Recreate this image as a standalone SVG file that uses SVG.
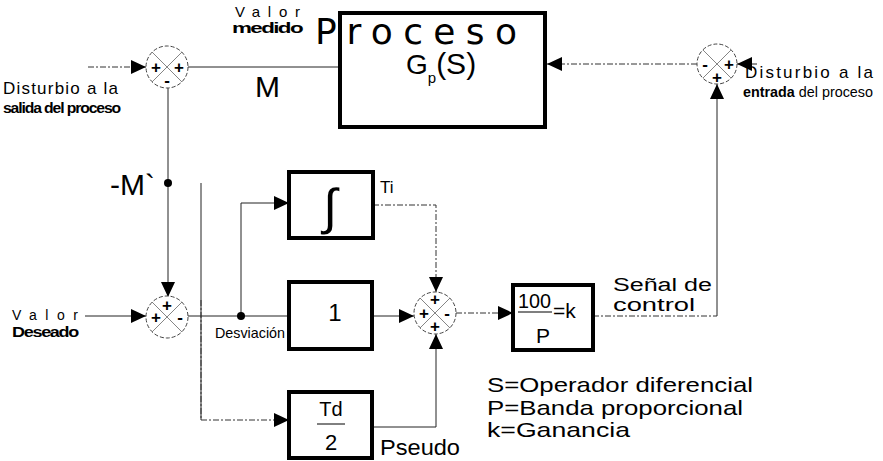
<svg xmlns="http://www.w3.org/2000/svg" width="883" height="461" viewBox="0 0 883 461">
<style>
text{font-family:"Liberation Sans",Arial,sans-serif;fill:#000}
text.dj{font-family:"DejaVu Sans",sans-serif}
.blk{fill:#fff;stroke:#000;stroke-width:4}
.sum{fill:#fff;stroke:#444;stroke-width:1;stroke-dasharray:4 2}
.x{stroke:#666;stroke-width:0.8}
.sg{font-size:17px;font-weight:bold;text-anchor:middle}
.ln{fill:none;stroke:#222;stroke-width:1}
.dl{fill:none;stroke:#333;stroke-width:1;stroke-dasharray:6 2 2 2}
.cond{font-weight:bold;letter-spacing:-1px}
</style>
<defs>
<marker id="ah" markerUnits="userSpaceOnUse" markerWidth="16" markerHeight="14" refX="15" refY="7" orient="auto">
<path d="M0,0 L15,7 L0,14 Z" fill="#000"/>
</marker>
</defs>

<g id="connectors">
<path class="dl" d="M88,67 H146" marker-end="url(#ah)"/>
<path class="ln" d="M188,67 H340"/>
<path class="ln" d="M168,88 V297" marker-end="url(#ah)"/>
<path class="ln" d="M85,316 H146" marker-end="url(#ah)"/>
<path class="ln" d="M188,316 H289"/>
<path class="ln" d="M241,316 V203 H289" marker-end="url(#ah)"/>
<path class="ln" d="M201,183 V420"/>
<path class="dl" d="M201,300 V420 H289" marker-end="url(#ah)"/>
<path class="ln" d="M372,316 H414" marker-end="url(#ah)"/>
<path class="dl" d="M373,205 H436 V292" marker-end="url(#ah)"/>
<path class="ln" d="M372,427 H436 V334" marker-end="url(#ah)"/>
<path class="dl" d="M456,313 H513" marker-end="url(#ah)"/>
<path class="dl" d="M593,316 H717"/>
<path class="ln" d="M717,316 V84" stroke-width="1.5" marker-end="url(#ah)"/>
<path class="ln" d="M757,64 H737" marker-end="url(#ah)"/>
<path class="dl" d="M697,64 H547" marker-end="url(#ah)"/>
<circle cx="168" cy="183" r="4" fill="#000"/>
<circle cx="241" cy="316" r="4" fill="#000"/>
</g>

<g id="sum1">
<circle class="sum" cx="167" cy="67" r="21"/>
<path class="x" d="M152,52 L182,82 M182,52 L152,82"/>
<text class="sg" x="156" y="73">+</text>
<text class="sg" x="179" y="73">+</text>
<text class="sg" x="167" y="86">-</text>
</g>

<g id="sum2">
<circle class="sum" cx="717" cy="64" r="20"/>
<path class="x" d="M703,50 L731,78 M731,50 L703,78"/>
<text class="sg" x="705" y="70">-</text>
<text class="sg" x="729" y="70">+</text>
<text class="sg" x="717" y="83">+</text>
</g>

<g id="sum3">
<circle class="sum" cx="167" cy="317" r="21"/>
<path class="x" d="M152,302 L182,332 M182,302 L152,332"/>
<text class="sg" x="167" y="311">+</text>
<text class="sg" x="156" y="323">+</text>
<text class="sg" x="180" y="323">-</text>
</g>

<g id="sum4">
<circle class="sum" cx="435" cy="313" r="21"/>
<path class="x" d="M420,298 L450,328 M450,298 L420,328"/>
<text class="sg" x="435" y="305">+</text>
<text class="sg" x="424" y="319">+</text>
<text class="sg" x="447" y="319">-</text>
<text class="sg" x="435" y="332">+</text>
</g>

<g id="proceso">
<rect class="blk" x="340" y="13" width="205" height="114"/>
<text class="dj" x="315" y="44" font-size="36" textLength="202" lengthAdjust="spacing">Proceso</text>
<text x="406" y="74" font-size="28">G<tspan font-size="15" dy="9">p</tspan><tspan font-size="30" dy="-9">(S)</tspan></text>
</g>

<g id="integral">
<rect class="blk" x="289" y="172" width="84" height="66"/>
<text x="330" y="224" font-size="50" text-anchor="middle">∫</text>
</g>

<g id="uno">
<rect class="blk" x="289" y="282" width="83" height="67"/>
<text x="335" y="321" font-size="24" text-anchor="middle">1</text>
</g>

<g id="deriv">
<rect class="blk" x="289" y="392" width="83" height="66"/>
<text x="331" y="416" font-size="20" text-anchor="middle">Td</text>
<line x1="317" y1="424" x2="345" y2="424" stroke="#000" stroke-width="1"/>
<text x="331" y="450" font-size="22" text-anchor="middle">2</text>
</g>

<g id="ganancia">
<rect class="blk" x="513" y="285" width="80" height="65"/>
<text x="518" y="308" font-size="21" textLength="33" lengthAdjust="spacingAndGlyphs">100</text>
<line x1="518" y1="312" x2="552" y2="312" stroke="#000" stroke-width="1.2"/>
<text x="553" y="318" font-size="21">=k</text>
<text x="536" y="343" font-size="21">P</text>
</g>

<g id="labels">
<text x="235" y="17" font-size="15" textLength="65" lengthAdjust="spacing">Valor</text>
<text x="232" y="33" font-size="14" class="cond" textLength="70" lengthAdjust="spacingAndGlyphs">medido</text>
<text x="255" y="97" font-size="30">M</text>
<text x="3" y="94" font-size="17" textLength="115" lengthAdjust="spacing">Disturbio a la</text>
<text x="3" y="113" font-size="14" class="cond" textLength="117" lengthAdjust="spacingAndGlyphs">salida del proceso</text>
<text x="745" y="78" font-size="17" textLength="128" lengthAdjust="spacing">Disturbio a la</text>
<text x="743" y="97" font-size="15" textLength="130" lengthAdjust="spacingAndGlyphs"><tspan font-weight="bold">entrada</tspan> del proceso</text>
<text x="110" y="195" font-size="30">-M`</text>
<text x="380" y="193" font-size="17">Ti</text>
<text x="12" y="320" font-size="14" textLength="66" lengthAdjust="spacing">Valor</text>
<text x="12" y="337" font-size="14" class="cond" textLength="66" lengthAdjust="spacingAndGlyphs">Deseado</text>
<text x="215" y="338" font-size="15" textLength="70" lengthAdjust="spacingAndGlyphs">Desviación</text>
<text x="380" y="455" font-size="22" textLength="80" lengthAdjust="spacingAndGlyphs">Pseudo</text>
<text x="613" y="291" font-size="18" textLength="99" lengthAdjust="spacingAndGlyphs">Señal de</text>
<text x="613" y="311" font-size="18" textLength="82" lengthAdjust="spacingAndGlyphs">control</text>
<text x="487" y="392" font-size="21" textLength="266" lengthAdjust="spacingAndGlyphs">S=Operador diferencial</text>
<text x="487" y="415" font-size="21" textLength="256" lengthAdjust="spacingAndGlyphs">P=Banda proporcional</text>
<text x="487" y="437" font-size="21" textLength="143" lengthAdjust="spacingAndGlyphs">k=Ganancia</text>
</g>
</svg>
